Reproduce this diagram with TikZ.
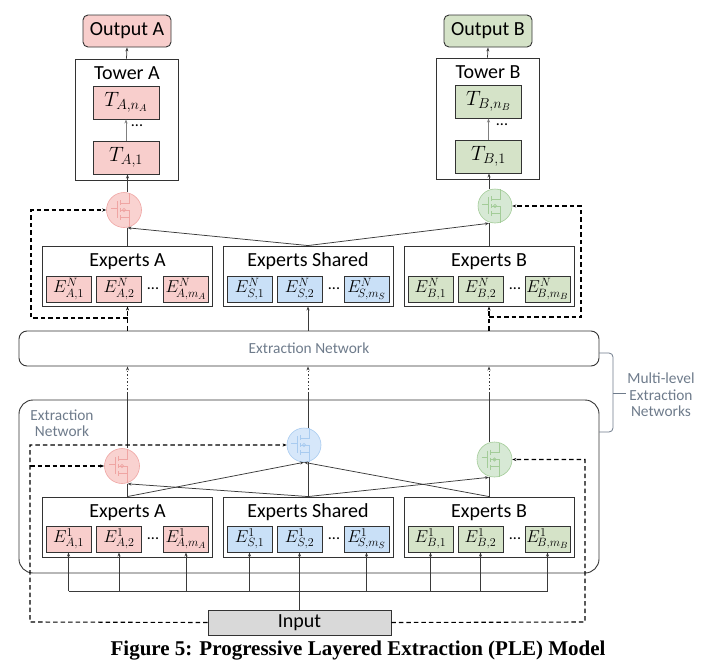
\documentclass[tikz,border=0pt]{standalone}
\usepackage[no-math]{fontspec}
\setmainfont{Carlito}
\newfontfamily\capfont{Liberation Serif}
\usetikzlibrary{arrows.meta}
\definecolor{pinkc}{HTML}{F8CECC}
\definecolor{bluec}{HTML}{C9E0F7}
\definecolor{greenc}{HTML}{D5E3C8}
\definecolor{grayfill}{HTML}{D9D9D9}
\definecolor{bordc}{HTML}{333333}
\definecolor{linec}{HTML}{3A3A3A}
\definecolor{labc}{HTML}{6E7B8B}
\definecolor{gpf}{HTML}{F9D2D0}
\definecolor{gpd}{HTML}{EFA5A3}
\definecolor{gbf}{HTML}{D6E7FA}
\definecolor{gbd}{HTML}{A8CBF0}
\definecolor{ggf}{HTML}{D7E9D5}
\definecolor{ggd}{HTML}{A3CC98}
\newcommand\gicon[2]{%
  \begin{scope}[shift={(#1.center)}, draw=#2, line width=0.6pt]
    \draw (-13,-2) -- (-7,-2);
    \draw (-7,-9) -- (-7,8);
    \draw (-4,-10) -- (-4,-5) (-4,-2) -- (-4,2) (-4,5) -- (-4,10);
    \draw (-4,-7) -- (5,-7) -- (5,-17);
    \draw (-4,7) -- (5,7) -- (5,17);
    \draw (-4,0) -- (5,0) -- (5,7);
    \draw (0,0) circle (1.6);
  \end{scope}}
\tikzset{
  x=1pt, y=-1pt,
  ttl/.style={font=\fontsize{20}{24}\selectfont, inner sep=0pt, text=black},
  obox/.style={draw=bordc, line width=0.9pt, rounded corners=5pt, minimum width=88pt, minimum height=32pt, inner sep=0pt, font=\fontsize{20}{24}\selectfont},
  plainbox/.style={draw=bordc, line width=0.9pt, inner sep=0pt, fill=white},
  tbox/.style={draw=bordc, line width=0.9pt, minimum width=66pt, minimum height=33pt, inner sep=0pt, font=\fontsize{19.5}{22}\selectfont},
  ebox/.style={draw=bordc, line width=0.9pt, minimum width=45pt, minimum height=26pt, inner sep=0pt, font=\fontsize{17.5}{20}\selectfont},
  grp/.style={draw=bordc, line width=0.9pt, minimum width=170pt, minimum height=60pt, inner sep=0pt},
  gate/.style={circle, minimum size=35pt, inner sep=0pt, line width=0.6pt},
  conn/.style={draw=linec, line width=0.75pt},
  arr/.style={conn, -{Stealth[length=4pt,width=3pt]}},
  dashline/.style={draw=black, line width=1.1pt, dash pattern=on 4.5pt off 3pt},
  dotline/.style={draw=linec, line width=1pt, dash pattern=on 1.3pt off 2.2pt},
  lab/.style={font=\fontsize{15.4}{16.5}\selectfont, text=labc, inner sep=0pt, align=center},
  dots/.style={font=\fontsize{16}{18}\selectfont, inner sep=0pt},
}
\begin{document}
\begin{tikzpicture}
\useasboundingbox (0,0) rectangle (724,664);
% ---------------- extraction network boxes
\node[draw=bordc, line width=0.9pt, rounded corners=14pt, minimum width=580pt, minimum height=173pt, inner sep=0pt] (low) at (309,486.5) {};
\node[lab] (lowlab) at (62,423) {Extraction\\Network};
\node[draw=bordc, line width=0.9pt, rounded corners=8pt, minimum width=580pt, minimum height=35pt, inner sep=0pt, lab] (net) at (309,348.5) {Extraction Network};
% bracket
\coordinate (brT) at (599,353);
\coordinate (brB) at (599,432);
\coordinate (brM) at (613,393);
\draw[draw=labc, line width=0.8pt, rounded corners=4pt] (brT) -- (613,353) -- (613,432) -- (brB);
\draw[draw=labc, line width=0.8pt] (brM) -- (626,393);
\node[lab] (mlab) at (661,395) {Multi-level\\Extraction\\Networks};
% ---------------- outputs and towers
\node[obox, fill=pinkc] (outA) at (127,31) {Output A};
\node[obox, fill=greenc] (outB) at (488,31) {Output B};
\node[plainbox, minimum width=103pt, minimum height=121pt] (towA) at (126.5,119.5) {};
\node[plainbox, minimum width=103pt, minimum height=121pt] (towB) at (487.5,118.5) {};
\node[ttl, anchor=base] (towAt) at (127,79) {Tower A};
\node[ttl, anchor=base] (towBt) at (488,78) {Tower B};
\node[tbox, fill=pinkc] (tAn) at (126,102.5) {$T_{A,n_A}$};
\node[tbox, fill=pinkc] (tA1) at (126,157.5) {$T_{A,1}$};
\node[tbox, fill=greenc] (tBn) at (488.5,101.5) {$T_{B,n_B}$};
\node[tbox, fill=greenc] (tB1) at (488.5,156.5) {$T_{B,1}$};
\node[dots] (dtA) at (137,126) {...};
\node[dots] (dtB) at (502,125) {...};
% ---------------- gates
\node[gate, fill=gpf, draw=gpd] (gA) at (124,210) {};
\node[gate, fill=ggf, draw=ggd, minimum size=34pt] (gB) at (495,206) {};
\node[gate, fill=gpf, draw=gpd] (gA1) at (122,466) {};
\node[gate, fill=gbf, draw=gbd, minimum size=34pt] (gS1) at (304,445) {};
\node[gate, fill=ggf, draw=ggd] (gB1) at (494.5,459.5) {};
\gicon{gA}{gpd}
\gicon{gB}{ggd}
\gicon{gA1}{gpd}
\gicon{gS1}{gbd}
\gicon{gB1}{ggd}
% ---------------- expert groups (top, level N)
\node[grp] (grpAN) at (127.5,276) {};
\node[grp] (grpSN) at (308,276) {};
\node[grp] (grpBN) at (489,276) {};
\node[ttl, anchor=base] (tAN) at (127.5,266) {Experts A};
\node[ttl, anchor=base] (tSN) at (308,266) {Experts Shared};
\node[ttl, anchor=base] (tBN) at (489,266) {Experts B};
\node[ebox, fill=pinkc] (eAN1) at (68.5,289) {$E^N_{A,1}$};
\node[ebox, fill=pinkc] (eAN2) at (119,289) {$E^N_{A,2}$};
\node[ebox, fill=pinkc] (eAN3) at (186,289) {$E^N_{\!A,m_A}$};
\node[ebox, fill=bluec] (eSN1) at (249.5,289) {$E^N_{S,1}$};
\node[ebox, fill=bluec] (eSN2) at (299.5,289) {$E^N_{S,2}$};
\node[ebox, fill=bluec] (eSN3) at (366.5,289) {$E^N_{\!S,m_S}$};
\node[ebox, fill=greenc] (eBN1) at (430.5,289) {$E^N_{B,1}$};
\node[ebox, fill=greenc] (eBN2) at (480.5,289) {$E^N_{B,2}$};
\node[ebox, fill=greenc] (eBN3) at (547.5,289) {$E^N_{\!B,m_B}$};
\node[dots] (dAN) at (153,289) {...};
\node[dots] (dSN) at (334,289) {...};
\node[dots] (dBN) at (515,289) {...};
% ---------------- expert groups (bottom, level 1)
\node[grp] (grpA1) at (127.5,527) {};
\node[grp] (grpS1) at (308,527) {};
\node[grp] (grpB1) at (489,527) {};
\node[ttl, anchor=base] (tA1g) at (127.5,517) {Experts A};
\node[ttl, anchor=base] (tS1g) at (308,517) {Experts Shared};
\node[ttl, anchor=base] (tB1g) at (489,517) {Experts B};
\node[ebox, fill=pinkc] (eA11) at (68.5,539) {$E^1_{A,1}$};
\node[ebox, fill=pinkc] (eA12) at (119,539) {$E^1_{A,2}$};
\node[ebox, fill=pinkc] (eA13) at (186,539) {$E^1_{\!A,m_A}$};
\node[ebox, fill=bluec] (eS11) at (249.5,539) {$E^1_{S,1}$};
\node[ebox, fill=bluec] (eS12) at (299.5,539) {$E^1_{S,2}$};
\node[ebox, fill=bluec] (eS13) at (366.5,539) {$E^1_{\!S,m_S}$};
\node[ebox, fill=greenc] (eB11) at (430.5,539) {$E^1_{B,1}$};
\node[ebox, fill=greenc] (eB12) at (480.5,539) {$E^1_{B,2}$};
\node[ebox, fill=greenc] (eB13) at (547.5,539) {$E^1_{\!B,m_B}$};
\node[dots] (dA1) at (153,539) {...};
\node[dots] (dS1) at (334,539) {...};
\node[dots] (dB1) at (515,539) {...};
% ---------------- input
\node[draw=bordc, line width=0.9pt, fill=grayfill, minimum width=183pt, minimum height=25pt, inner sep=0pt, font=\fontsize{20}{24}\selectfont] (inp) at (299.5,622.5) {Input};
% ---------------- caption
\node[font=\capfont\bfseries\fontsize{21}{24}\selectfont, anchor=base, inner sep=0pt] (cap) at (358,655) {Figure 5: Progressive Layered Extraction (PLE) Model};
% ---------------- tower connectors
\draw[arr] (towA.north) -- (outA.south);
\draw[arr] (towB.north) -- (outB.south);
\draw[arr, draw=gray] (tA1.north) -- (tAn.south);
\draw[arr, draw=gray] (tB1.north) -- (tBn.south);
\draw[arr] (grpAN.north |- gA.north) -- (grpAN.north |- tA1.south);
\draw[arr] (grpBN.north |- gB.north) -- (grpBN.north |- tB1.south);
% ---------------- top gate inputs
\draw[conn] (grpAN.north) -- (grpAN.north |- gA.south);
\draw[conn] (grpBN.north) -- (grpBN.north |- gB.south);
\draw[arr] (grpSN.north) -- (grpAN.north |- gA.south);
\draw[arr] (grpSN.north) -- (grpBN.north |- gB.south);
% ---------------- network to top experts
\draw[dashline, -{Stealth[length=4pt,width=3pt]}] (net.north -| grpAN.south) -- (grpAN.south);
\draw[dashline, -{Stealth[length=4pt,width=3pt]}] (net.north -| grpBN.south) -- (grpBN.south);
\draw[arr] (net.north -| grpSN.south) -- (grpSN.south);
\coordinate (dA0) at (127.5,318);
\coordinate (dA1) at (31,318);
\coordinate (dB0) at (489,317);
\coordinate (dB1) at (581,317);
\draw[dashline, -{Stealth[length=4pt,width=3pt]}] (dA0) -- (dA1) |- (gA.west);
\draw[dashline, -{Stealth[length=4pt,width=3pt]}] (dB0) -- (dB1) |- (gB.east);
% ---------------- lower columns up to network
\coordinate (cA) at (127.5,393);
\coordinate (cS) at (308,393);
\coordinate (cB) at (489,393);
\draw[conn] (grpA1.north |- gA1.north) -- (cA);
\draw[conn] (grpS1.north |- gS1.north) -- (cS);
\draw[conn] (grpB1.north |- gB1.north) -- (cB);
\draw[dotline, -{Stealth[length=4pt,width=3pt]}] (cA) -- (cA |- net.south);
\draw[dotline, -{Stealth[length=4pt,width=3pt]}] (cS) -- (cS |- net.south);
\draw[dotline, -{Stealth[length=4pt,width=3pt]}] (cB) -- (cB |- net.south);
% ---------------- lower gate inputs
\draw[conn] (grpA1.north) -- (grpA1.north |- gA1.south);
\draw[conn] (grpS1.north) -- (grpS1.north |- gS1.south);
\draw[conn] (grpB1.north) -- (grpB1.north |- gB1.south);
\draw[arr] (grpA1.north) -- (gS1.south);
\draw[arr] (grpB1.north) -- (gS1.south);
\draw[arr] (grpS1.north) -- (grpA1.north |- gA1.south);
\draw[arr] (grpS1.north) -- (grpB1.north |- gB1.south);
% ---------------- input dashed paths
\coordinate (dL) at (30,622);
\coordinate (dR) at (585,622);
\draw[dashline, -{Stealth[length=4pt,width=3pt]}] (inp.west) -- (dL) |- (gS1.west);
\draw[dashline, -{Stealth[length=4pt,width=3pt]}] (dL |- gA1.west) -- (gA1.west);
\draw[dashline, -{Stealth[length=4pt,width=3pt]}] (inp.east) -- (dR) |- (gB1.east);
% ---------------- input bus
\coordinate (bus) at (0,591);
\draw[conn] (inp.north) -- (inp.north |- bus);
\draw[conn] (eA11.south |- bus) -- (eB13.south |- bus);
\foreach \e in {eA11,eA12,eA13,eS11,eS12,eS13,eB11,eB12,eB13}
  \draw[arr] (\e.south |- bus) -- (\e.south);
\end{tikzpicture}
\end{document}
